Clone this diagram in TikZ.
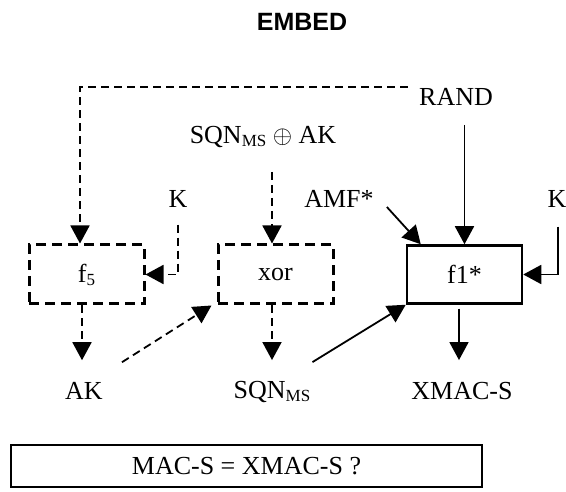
\documentclass[tikz,border=0pt]{standalone}
\usepackage{fontspec}
\setmainfont{Liberation Serif}
\newfontfamily\titlefont{Liberation Sans}
\usetikzlibrary{arrows.meta,calc}
\newcommand{\lowsub}[1]{\raisebox{-3pt}{\fontsize{17}{17}\selectfont #1}}
\begin{document}
\begin{tikzpicture}[x=1pt,y=-1pt,
  txt/.style={font=\fontsize{26}{30}\selectfont, inner sep=0pt},
  conn/.style={line width=1.8pt, -{Triangle[length=18pt,width=19pt]}},
  dconn/.style={conn, dash pattern=on 8pt off 5pt},
  dbox/.style={draw, line width=3pt, dash pattern=on 10pt off 6pt, minimum width=115pt, minimum height=59pt, txt},
  sbox/.style={draw, line width=2.5pt, minimum width=115pt, minimum height=58pt, txt},
  cbox/.style={draw, line width=1.2pt, minimum width=471pt, minimum height=42pt, txt},
]
\useasboundingbox (0,0) rectangle (566,492);

\node[font=\titlefont\bfseries\fontsize{25}{30}\selectfont, inner sep=0pt] (title) at (302,22) {EMBED};

\node[txt] (rand) at (456,97) {RAND};
\node[txt] (sqnak) at (263,137) {SQN\lowsub{MS} $\oplus$ AK};
\node[txt] (kl) at (178,199) {K};
\node[txt] (amf) at (339,199) {AMF*};
\node[txt] (kr) at (557,199) {K};

\node[dbox] (f5) at (86.5,274.5) {f\lowsub{5}};
\node[dbox] (xor) at (275.5,274.5) {xor};
\node[sbox] (f1) at (464.5,274.5) {f1*};

\node[txt] (ak) at (84,391) {AK};
\node[txt] (sqn) at (272,392) {SQN\lowsub{MS}};
\node[txt] (xmac) at (462,391) {XMAC-S};

\node[cbox] (cmp) at (246.5,466) {MAC-S = XMAC-S ?};

% RAND to f5 (dashed)
\draw[dconn] ($(rand.west)+(-11,-10)$) -| ($(f5.north)+(-6.5,0)$);
% K to f5
\draw[dconn] ($(kl.south)+(0,17)$) |- (f5.east);
% SQN xor AK to xor
\draw[dconn] ($(sqnak.south -| xor.north)+(-3.5,24)$) -- ($(xor.north)+(-3.5,0)$);
% AMF* to f1*
\draw[conn] ($(amf.east)+(13,8)$) -- ($(f1.north west)+(15,0)$);
% RAND to f1*
\draw[conn] ($(rand.south -| f1.north)+(0,19)$) -- (f1.north);
% K to f1*
\draw[conn] ($(kr.south)+(1,19)$) |- (f1.east);
% outputs
\draw[dconn] ($(f5.south)+(-4.5,0)$) -- ($(ak.north)+(-2,-22)$);
\draw[dconn] ($(xor.south)+(-3.5,0)$) -- ($(sqn.north)+(0,-21)$);
\draw[conn] ($(f1.south)+(-5.5,4)$) -- ($(xmac.north)+(-3,-22)$);
% cross connections
\draw[dconn] ($(ak.north east)+(19,-20)$) -- ($(xor.south west)+(-5,0)$);
\draw[conn] ($(sqn.north east)+(2,-19)$) -- (f1.south west);
\end{tikzpicture}
\end{document}
